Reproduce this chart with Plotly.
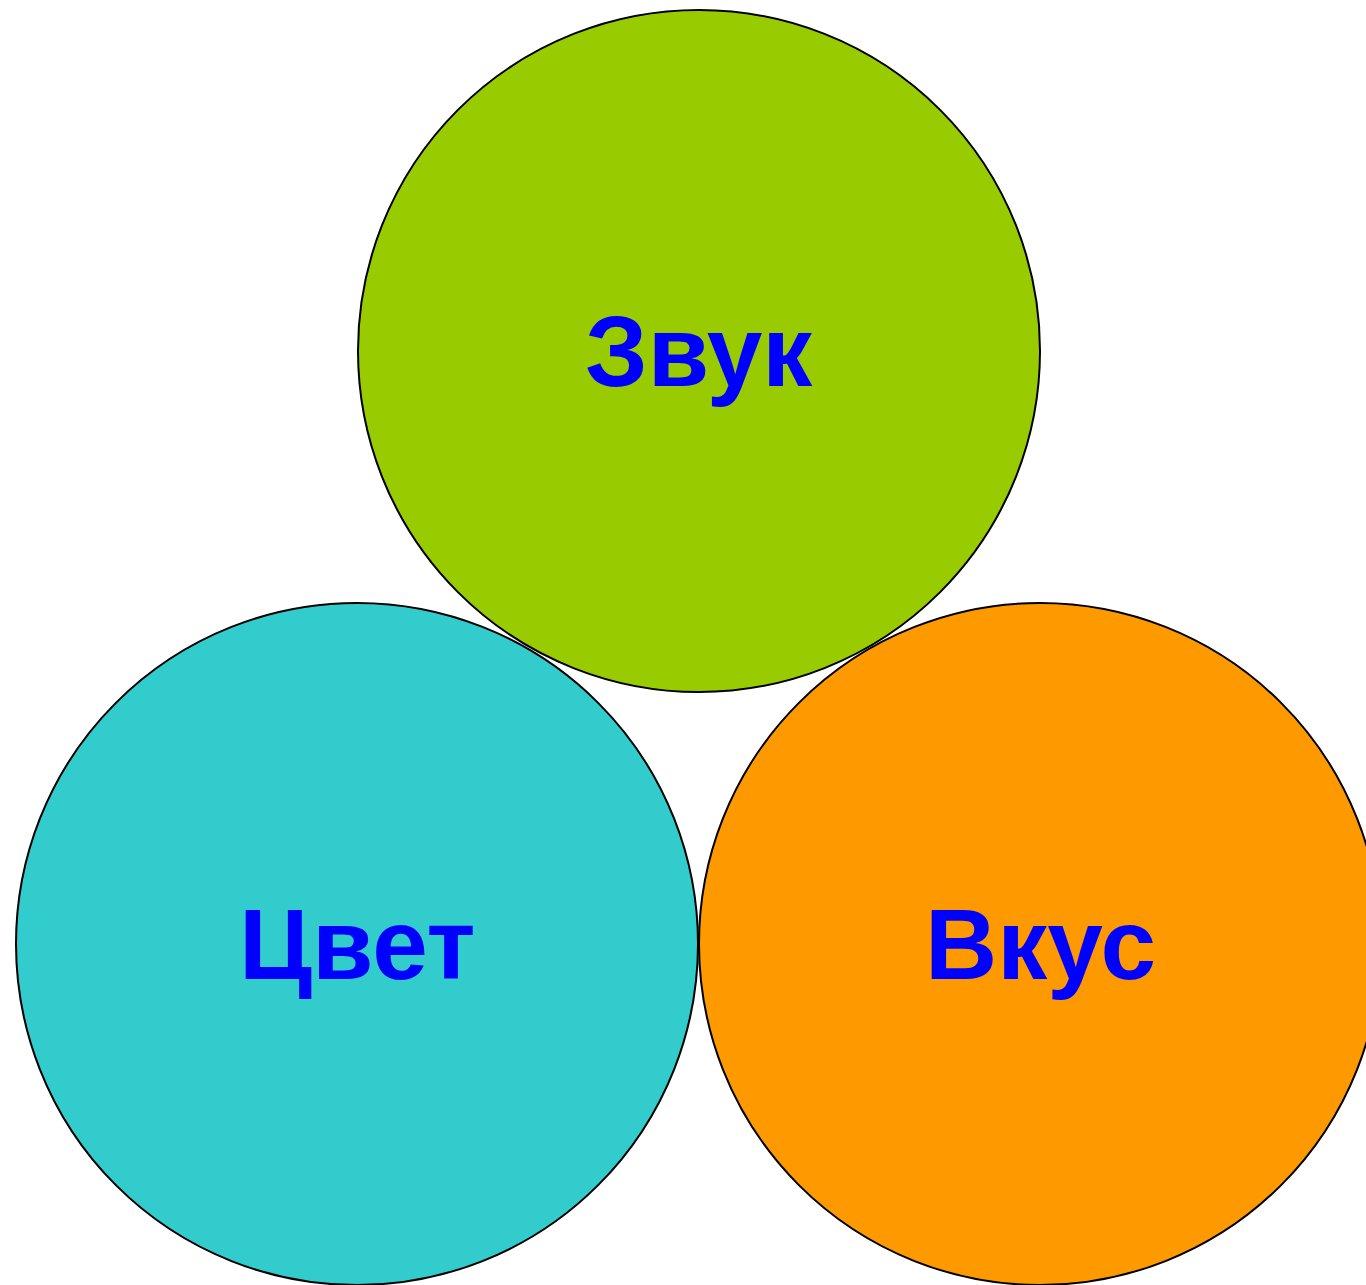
import plotly.graph_objects as go

labels = ["Звук", "Цвет", "Вкус"]
cx = [699, 357, 1040]
cy = [351, 944, 944]
radius = [341, 341, 341]
colors = ["#99CC00", "#33CCCC", "#FF9900"]

fig = go.Figure()
fig.add_trace(go.Scatter(x=cx, y=cy, mode="markers", marker=dict(size=0, opacity=0),
                         hoverinfo="skip", showlegend=False))
for x, y, r, c, t in zip(cx, cy, radius, colors, labels):
    fig.add_shape(type="circle", xref="x", yref="y", x0=x - r, x1=x + r, y0=y - r, y1=y + r,
                  fillcolor=c, line=dict(color="black", width=2), layer="below")
    fig.add_annotation(x=x, y=y, xref="x", yref="y", text="<b>%s</b>" % t, showarrow=False,
                       font=dict(family="Liberation Sans, Arial, sans-serif", size=100, color="#0000FF"),
                       xanchor="center", yanchor="middle")

fig.update_layout(width=1366, height=1285, margin=dict(l=0, r=0, t=0, b=0),
                  paper_bgcolor="white", plot_bgcolor="white", showlegend=False)
fig.update_xaxes(range=[0, 1366], visible=False, fixedrange=True)
fig.update_yaxes(range=[1285, 0], visible=False, fixedrange=True)
fig.write_html("out.html", config={"displayModeBar": False},
               post_script="document.body.style.margin='0';document.body.style.overflow='hidden';")
